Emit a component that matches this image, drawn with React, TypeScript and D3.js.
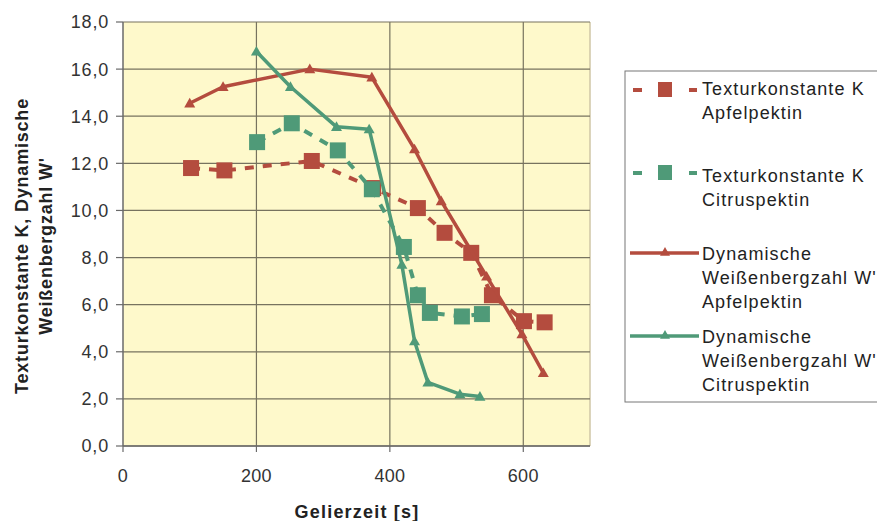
import React from "react";
import * as d3 from "d3";

// Texturkonstante K (squares, dashed)
const kApfelX = [102, 152, 283, 375, 442, 482, 522, 553, 601, 632];
const kApfelY = [11.8, 11.7, 12.1, 10.95, 10.1, 9.05, 8.2, 6.4, 5.3, 5.25];
const kCitrusX = [201, 253, 322, 373, 421, 442, 460, 508, 538];
const kCitrusY = [12.9, 13.7, 12.55, 10.9, 8.45, 6.4, 5.65, 5.5, 5.6];

// Dynamische Weißenbergzahl W' (triangles, solid)
const wApfelX = [100, 150, 280, 373, 437, 477, 545, 598, 630];
const wApfelY = [14.55, 15.25, 16.0, 15.65, 12.6, 10.4, 7.2, 4.75, 3.1];
const wCitrusX = [200, 251, 320, 369, 418, 437, 457, 505, 535];
const wCitrusY = [16.75, 15.25, 13.55, 13.45, 7.7, 4.45, 2.7, 2.2, 2.1];

const yTicks = [0, 2, 4, 6, 8, 10, 12, 14, 16, 18];
const xTicks = [0, 200, 400, 600];

const RED = "#b44c3e";
const GREEN = "#4f9a78";
const FONT = "Liberation Sans, Arial, sans-serif";

const legendItems = [
  { lines: ["Texturkonstante K", "Apfelpektin"], color: RED, kind: "square" },
  { lines: ["Texturkonstante K", "Citruspektin"], color: GREEN, kind: "square" },
  { lines: ["Dynamische", "Weißenbergzahl W'", "Apfelpektin"], color: RED, kind: "tri" },
  { lines: ["Dynamische", "Weißenbergzahl W'", "Citruspektin"], color: GREEN, kind: "tri" },
];
// symbol centre and first text baseline of each entry
const legendSymY = [90, 173, 253, 336];
const legendBase = [95, 182, 260, 343];

function tri(cx: number, cy: number, s: number) {
  return `M${cx},${cy - s} L${cx + s},${cy + s * 0.75} L${cx - s},${cy + s * 0.75} Z`;
}

export default function App() {
  const left = 123;
  const right = 590;
  const top = 22;
  const bottom = 446;

  const x = d3.scaleLinear().domain([0, 700]).range([left, right]);
  const y = d3.scaleLinear().domain([0, 18]).range([bottom, top]);

  const line = d3
    .line<[number, number]>()
    .x((d) => x(d[0]))
    .y((d) => y(d[1]));

  const zip = (xs: number[], ys: number[]) => xs.map((v, i) => [v, ys[i]] as [number, number]);
  const kApfel = zip(kApfelX, kApfelY);
  const kCitrus = zip(kCitrusX, kCitrusY);
  const wApfel = zip(wApfelX, wApfelY);
  const wCitrus = zip(wCitrusX, wCitrusY);

  return (
    <svg
      width={877}
      height={521}
      style={{ position: "absolute", left: 0, top: 0, background: "#fff" }}
      fontFamily={FONT}
    >
      {/* plot background */}
      <rect x={left} y={top} width={right - left} height={bottom - top} fill="#fef9cb" />
      <line x1={right} x2={right} y1={top} y2={bottom} stroke="#cfc6a6" strokeWidth={1.5} />

      {/* grid */}
      {yTicks.map((t) => (
        <line key={"gy" + t} x1={left} x2={right} y1={y(t)} y2={y(t)} stroke="#77735f" strokeWidth={1.2} />
      ))}
      {xTicks.slice(1).map((t) => (
        <line key={"gx" + t} x1={x(t)} x2={x(t)} y1={top} y2={bottom} stroke="#77735f" strokeWidth={1.2} />
      ))}

      {/* axes */}
      <line x1={left} x2={left} y1={top} y2={bottom} stroke="#6a6a6a" strokeWidth={1.5} />
      <line x1={left} x2={right} y1={bottom} y2={bottom} stroke="#6a6a6a" strokeWidth={1.5} />
      {yTicks.map((t) => (
        <g key={"yt" + t}>
          <line x1={left - 7} x2={left} y1={y(t)} y2={y(t)} stroke="#6a6a6a" strokeWidth={1.2} />
          <text x={109} y={y(t)} dy="0.36em" textAnchor="end" fontSize={18} letterSpacing={0.8} fill="#333">
            {t.toFixed(1).replace(".", ",")}
          </text>
        </g>
      ))}
      {xTicks.map((t) => (
        <g key={"xt" + t}>
          <line x1={x(t)} x2={x(t)} y1={bottom} y2={bottom + 6} stroke="#6a6a6a" strokeWidth={1.2} />
          <text x={x(t)} y={482} textAnchor="middle" fontSize={18} letterSpacing={0.3} fill="#333">
            {t}
          </text>
        </g>
      ))}

      {/* axis titles */}
      <text x={357} y={518} textAnchor="middle" fontSize={18} fontWeight="bold" letterSpacing={1.2} fill="#222">
        Gelierzeit [s]
      </text>
      <g transform="translate(0,246) rotate(-90)">
        <text x={0} y={28} textAnchor="middle" fontSize={18} fontWeight="bold" letterSpacing={0.8} fill="#222">
          Texturkonstante K, Dynamische
        </text>
        <text x={0} y={52} textAnchor="middle" fontSize={18} fontWeight="bold" letterSpacing={0.8} fill="#222">
          Weißenbergzahl W'
        </text>
      </g>

      {/* dashed K series */}
      <path d={line(kApfel)!} fill="none" stroke={RED} strokeWidth={4} strokeDasharray="9,9" />
      {kApfel.map((d, i) => (
        <rect key={"ka" + i} x={x(d[0]) - 8} y={y(d[1]) - 8} width={16} height={16} fill={RED} />
      ))}
      <path d={line(kCitrus)!} fill="none" stroke={GREEN} strokeWidth={4} strokeDasharray="9,9" />
      {kCitrus.map((d, i) => (
        <rect key={"kc" + i} x={x(d[0]) - 8} y={y(d[1]) - 8} width={16} height={16} fill={GREEN} />
      ))}

      {/* solid W' series */}
      <path d={line(wApfel)!} fill="none" stroke={RED} strokeWidth={3.5} strokeLinejoin="round" />
      {wApfel.map((d, i) => (
        <path key={"wa" + i} d={tri(x(d[0]), y(d[1]), 5.5)} fill={RED} />
      ))}
      <path d={line(wCitrus)!} fill="none" stroke={GREEN} strokeWidth={3.5} strokeLinejoin="round" />
      {wCitrus.map((d, i) => (
        <path key={"wc" + i} d={tri(x(d[0]), y(d[1]), 5.5)} fill={GREEN} />
      ))}

      {/* legend */}
      <rect x={625} y={71} width={270} height={331} fill="#fff" stroke="#777" strokeWidth={1} />
      {legendItems.map((it, i) => {
        const cy = legendSymY[i];
        const base = legendBase[i];
        return (
          <g key={"lg" + i}>
            {it.kind === "square" ? (
              <g>
                <line x1={633} x2={642} y1={cy} y2={cy} stroke={it.color} strokeWidth={4} />
                <rect x={658} y={cy - 8} width={14} height={15} fill={it.color} />
                <line x1={689} x2={697} y1={cy} y2={cy} stroke={it.color} strokeWidth={4} />
              </g>
            ) : (
              <g>
                <line x1={630} x2={699} y1={cy} y2={cy} stroke={it.color} strokeWidth={3.5} />
                <path d={tri(665, cy - 1, 5)} fill={it.color} />
              </g>
            )}
            {it.lines.map((s, j) => (
              <text key={j} x={702} y={base + j * 24} fontSize={18} letterSpacing={1.1} fill="#222">
                {s}
              </text>
            ))}
          </g>
        );
      })}
    </svg>
  );
}
